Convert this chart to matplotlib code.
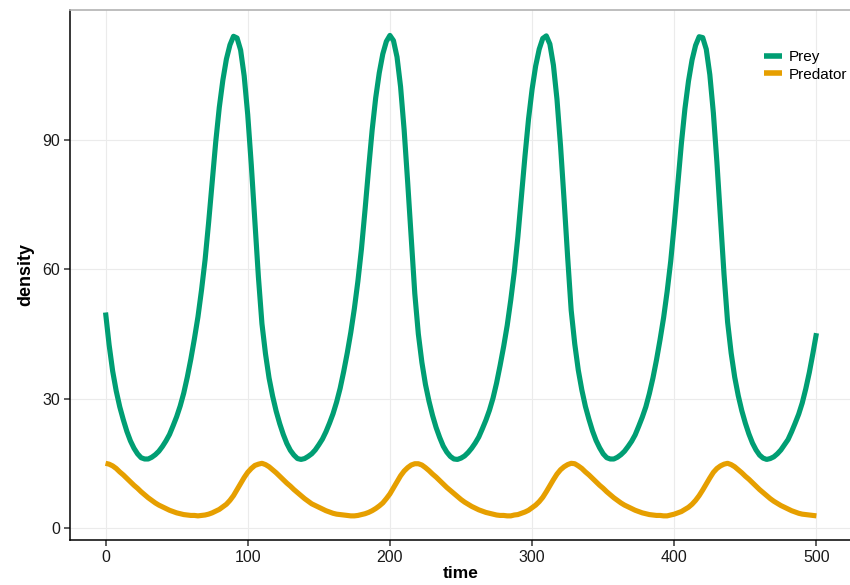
import numpy as np
import matplotlib
matplotlib.use('Agg')
import matplotlib.pyplot as plt

plt.rcParams['font.family'] = ['Liberation Sans', 'DejaVu Sans']

# simulation output times
time = np.arange(0, 500.1, 2.5)

# prey density (one row group per cycle)
prey = [
    50.0, 42.5, 36.4, 31.8, 28.1, 25.1, 22.4, 20.2, 18.5, 17.2, 16.3, 16.0, 16.0, 16.4, 17.0,
    17.8, 18.9, 20.2, 21.7, 23.7, 25.8, 28.3, 31.3, 35.0, 39.2, 43.9, 49.0, 55.2, 62.2, 70.9,
    80.3, 89.6, 97.6, 103.9, 108.8, 112.1, 114.1, 113.7, 110.9, 104.9, 95.9, 84.3, 71.3, 58.3,
    47.4, 40.4, 34.8, 30.6, 27.1, 24.2, 21.7, 19.6, 18.0, 16.9, 16.1, 15.9, 16.1, 16.6, 17.2,
    18.1, 19.3, 20.6, 22.3, 24.3, 26.5, 29.2, 32.4, 36.3, 40.6, 45.4, 50.9, 57.3, 64.8, 73.8,
    83.3, 92.3, 99.8, 105.6, 110.0, 112.9, 114.3, 113.1, 109.3, 102.4, 92.4, 80.2, 67.1, 54.4,
    45.0, 38.4, 33.3, 29.4, 26.1, 23.3, 21.0, 19.0, 17.6, 16.6, 16.0, 15.9, 16.2, 16.7, 17.5,
    18.5, 19.7, 21.1, 23.0, 25.0, 27.3, 30.1, 33.6, 37.7, 42.1, 47.0, 52.9, 59.5, 67.6, 76.9,
    86.3, 94.9, 101.8, 107.2, 111.1, 113.6, 114.2, 112.3, 107.4, 99.5, 88.7, 76.1, 62.9, 50.5,
    42.7, 36.6, 32.0, 28.2, 25.2, 22.5, 20.3, 18.6, 17.2, 16.3, 16.0, 16.0, 16.4, 17.0, 17.8,
    18.9, 20.1, 21.6, 23.6, 25.7, 28.1, 31.2, 34.8, 39.0, 43.7, 48.8, 54.9, 61.9, 70.5, 79.9,
    89.2, 97.3, 103.7, 108.6, 112.0, 114.0, 113.8, 111.1, 105.2, 96.3, 84.8, 71.8, 58.8,
    47.8, 40.6, 35.0, 30.7, 27.2, 24.3, 21.8, 19.7, 18.1, 16.9, 16.2, 15.9, 16.1, 16.5, 17.2,
    18.1, 19.3, 20.5, 22.3, 24.3, 26.4, 29.0, 32.3, 36.1, 40.5, 45.2,
]

# predator density
predator = [
    15.0, 14.8, 14.4, 13.8, 13.0, 12.3, 11.5, 10.7, 9.9, 9.2, 8.4, 7.7, 7.0, 6.4, 5.8,
    5.3, 4.9, 4.5, 4.1, 3.8, 3.5, 3.3, 3.1, 3.0, 2.9, 2.9, 2.8, 2.9, 3.0, 3.2,
    3.5, 3.9, 4.3, 4.9, 5.5, 6.4, 7.5, 8.9, 10.3, 11.7, 12.9, 13.8, 14.5, 14.8,
    15.0, 14.7, 14.2, 13.5, 12.8, 12.0, 11.2, 10.4, 9.7, 8.9, 8.2, 7.5, 6.8, 6.2, 5.6,
    5.2, 4.8, 4.4, 4.0, 3.7, 3.4, 3.2, 3.1, 3.0, 2.9, 2.8, 2.8, 2.9, 3.1, 3.3,
    3.6, 4.0, 4.5, 5.1, 5.8, 6.8, 7.9, 9.3, 10.7, 12.1, 13.2, 14.0, 14.6, 14.9,
    14.9, 14.6, 14.0, 13.3, 12.5, 11.8, 11.0, 10.2, 9.4, 8.7, 8.0, 7.3, 6.6, 6.0, 5.5,
    5.0, 4.6, 4.2, 3.9, 3.6, 3.4, 3.2, 3.0, 2.9, 2.9, 2.8, 2.8, 3.0, 3.1, 3.4,
    3.7, 4.1, 4.7, 5.3, 6.1, 7.1, 8.4, 9.8, 11.2, 12.5, 13.5, 14.2, 14.7, 15.0,
    14.9, 14.4, 13.8, 13.0, 12.3, 11.5, 10.7, 9.9, 9.2, 8.4, 7.7, 7.0, 6.4, 5.8, 5.3,
    4.9, 4.5, 4.1, 3.8, 3.5, 3.3, 3.1, 3.0, 2.9, 2.9, 2.8, 2.8, 3.0, 3.2, 3.5,
    3.8, 4.3, 4.8, 5.5, 6.4, 7.5, 8.8, 10.2, 11.6, 12.9, 13.8, 14.4, 14.8,
    15.0, 14.7, 14.2, 13.5, 12.8, 12.0, 11.3, 10.5, 9.7, 8.9, 8.2, 7.5, 6.8, 6.2, 5.7,
    5.2, 4.8, 4.4, 4.0, 3.7, 3.4, 3.2, 3.1, 3.0, 2.9, 2.8,
]

series_names = ['Prey', 'Predator']
colors = ['#009E73', '#E69F00']
x_ticks = [0, 100, 200, 300, 400, 500]
y_ticks = [0, 30, 60, 90]

fig = plt.figure(figsize=(8.5, 5.85), dpi=100)
ax = fig.add_axes([70 / 850, 45 / 585, 782 / 850, 530 / 585])

for vals, name, col in zip([prey, predator], series_names, colors):
    ax.plot(time, vals, color=col, lw=3.7, label=name, solid_capstyle='butt',
            solid_joinstyle='round', zorder=3)

ax.set_xlim(-25, 525)
ax.set_ylim(-2.8, 120.2)
ax.set_xticks(x_ticks)
ax.set_yticks(y_ticks)
ax.grid(True, color='#ebebeb', lw=0.8, zorder=0)
ax.set_axisbelow(True)

for side in ['left', 'bottom']:
    ax.spines[side].set_color('black')
    ax.spines[side].set_linewidth(1.1)
ax.spines['top'].set_color('#b3b3b3')
ax.spines['top'].set_linewidth(1.2)
ax.spines['right'].set_visible(False)

ax.tick_params(axis='both', length=4, width=1.1, color='#333333',
               labelsize=11.5, labelcolor='#1a1a1a', pad=3)

ax.set_xlabel('time', fontsize=12.5, fontweight='bold', labelpad=1)
ax.set_ylabel('density', fontsize=13, fontweight='bold', labelpad=6)

# legend sits in the top right corner, right against the edge
leg = ax.legend(loc='upper left', bbox_to_anchor=(764 / 850, 1 - 50 / 585),
                bbox_transform=fig.transFigure, frameon=False, fontsize=11,
                handlelength=1.2, handletextpad=0.45, labelspacing=0.25,
                borderaxespad=0, borderpad=0)
for line in leg.get_lines():
    line.set_linewidth(4)

fig.savefig('out.png', dpi=100)
